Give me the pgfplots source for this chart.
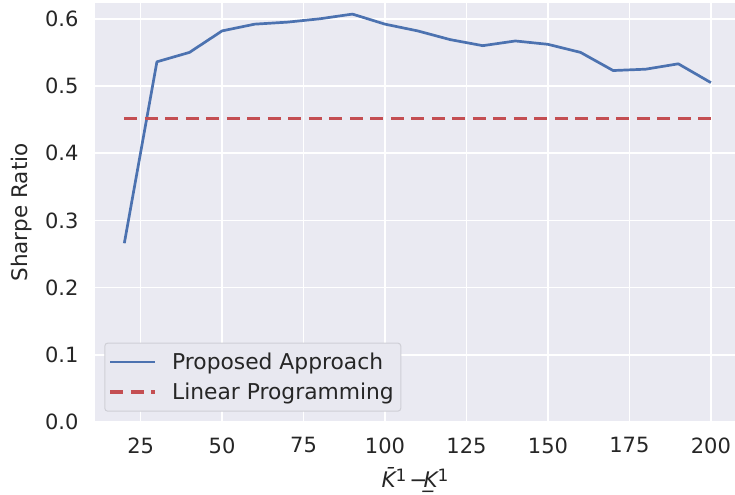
\documentclass[border=0pt]{standalone}
\usepackage{fontspec}
\setmainfont{DejaVu Sans}
\usepackage{pgfplots}
\pgfplotsset{compat=1.18}
\usetikzlibrary{calc}
\definecolor{sbblue}{HTML}{4C72B0}
\definecolor{sbred}{HTML}{C44E52}
\definecolor{sbbg}{HTML}{EAEAF2}
\definecolor{sbtext}{HTML}{262626}
\definecolor{legbg}{HTML}{E8E8F0}
\definecolor{legedge}{HTML}{CFCFD6}
\begin{document}
\begin{tikzpicture}
\begin{axis}[name=ax, scale only axis, width=640bp, height=419bp,
  xmin=11, xmax=207.4, ymin=0, ymax=0.6235,
  axis background/.style={fill=sbbg},
  axis line style={draw=none},
  major tick length=0pt,
  xtick={25,50,75,100,125,150,175,200},
  ytick={0,0.1,0.2,0.3,0.4,0.5,0.6},
  grid=major, major grid style={white, line width=1.6bp},
  /pgf/number format/assume math mode=true,
  tick label style={font=\fontsize{21bp}{25bp}\selectfont, text=sbtext},
  yticklabel style={/pgf/number format/.cd, fixed, fixed zerofill, precision=1, /tikz/.cd, xshift=-13bp},
  xticklabel style={yshift=-12bp},
  label style={font=\fontsize{21.5bp}{25bp}\selectfont, text=sbtext},
  ylabel={Sharpe Ratio},
  every axis y label/.style={at={(axis description cs:0,0.5)}, xshift=-73bp, anchor=center, rotate=90,
    font=\fontsize{21.5bp}{25bp}\selectfont, text=sbtext},
  xlabel={{\itshape\={K}}{\fontsize{17bp}{20bp}\selectfont\raisebox{6bp}{1}}\hspace{3bp}−\hspace{-4bp}{\itshape\b{K}}{\fontsize{17bp}{20bp}\selectfont\raisebox{6bp}{1}}},
  xlabel style={at={(axis description cs:0.5,0)}, anchor=north, inner sep=0pt, yshift=-45bp},
  legend cell align=left,
  legend style={at={(0,0)}, anchor=south west, xshift=9.3bp, yshift=10.3bp,
    fill=legbg, draw=legedge, line width=1bp, rounded corners=3bp,
    font=\fontsize{21.8bp}{25bp}\selectfont, text=sbtext,
    inner xsep=4bp, inner ysep=7bp, row sep=6bp, column sep=12bp,
    nodes={inner sep=3bp}},
  legend image code/.code={\draw[#1] (0bp,0bp) -- (45bp,0bp);},
]
\addplot[sbblue, line width=2.7bp, line join=round] coordinates {
(20,0.266) (30,0.536) (40,0.550) (50,0.582) (60,0.592) (70,0.595)
(80,0.600) (90,0.607) (100,0.592) (110,0.582) (120,0.569) (130,0.560)
(140,0.567) (150,0.562) (160,0.550) (170,0.523) (180,0.525) (190,0.533)
(200,0.505)};
\addlegendentry{Proposed Approach}
\addplot[sbred, line width=3.4bp, dash pattern=on 13bp off 7.5bp] coordinates {(20,0.452) (200,0.452)};
\addlegendentry{Linear Programming}
\end{axis}
\pgfresetboundingbox
\useasboundingbox ($(ax.south west)+(-95bp,-73bp)$) rectangle ($(ax.north east)+(0bp,3bp)$);
\end{tikzpicture}
\end{document}
